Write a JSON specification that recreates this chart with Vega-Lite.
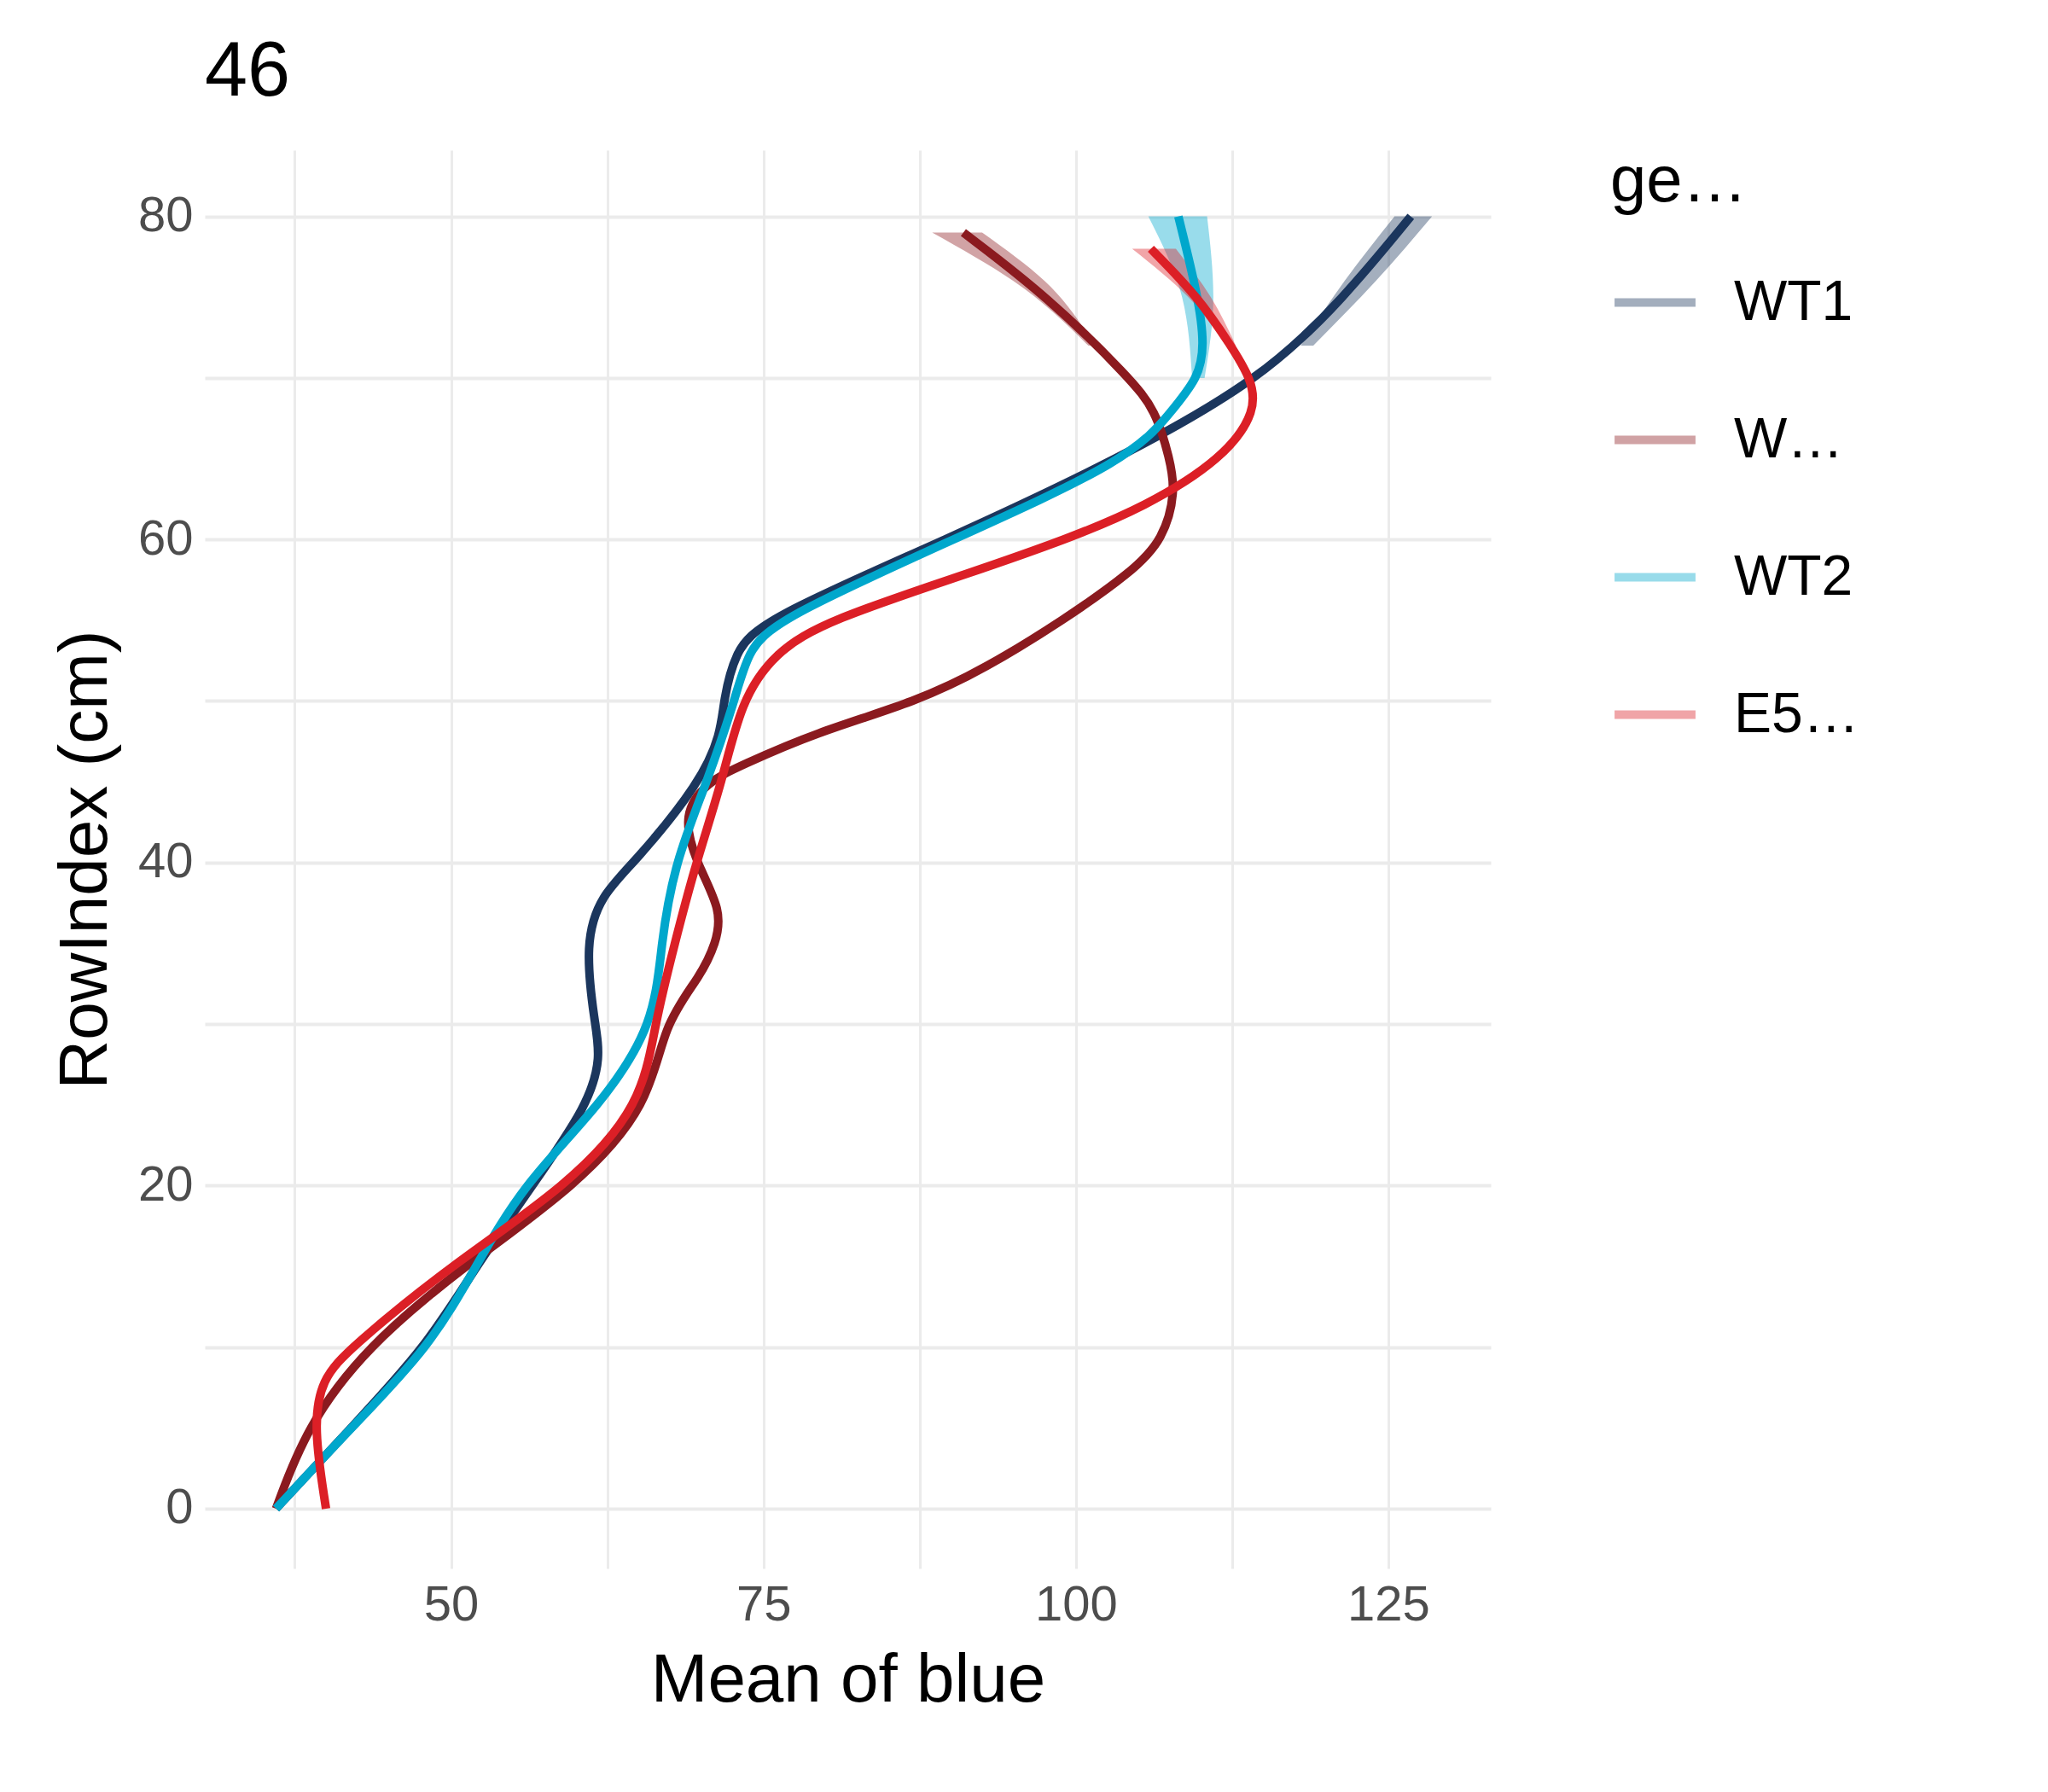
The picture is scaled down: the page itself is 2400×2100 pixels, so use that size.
{
  "$schema": "https://vega.github.io/schema/vega-lite/v6.json",
  "width": 1507,
  "height": 1662,
  "padding": {"left": 60, "top": 40, "right": 20, "bottom": 20},
  "background": "white",
  "title": {"text": "46", "anchor": "start", "frame": "group", "fontSize": 90, "font": "Liberation Sans", "fontWeight": "normal", "color": "black", "offset": 45},
  "config": {
    "font": "Liberation Sans",
    "view": {"stroke": null},
    "axis": {"domain": false, "ticks": false, "gridColor": "#ebebeb", "gridWidth": 4, "labelFontSize": 58, "labelColor": "#4d4d4d", "titleFontSize": 80, "titleFontWeight": "normal", "titleColor": "black", "labelPadding": 14, "titlePadding": 20}
  },
  "data": {"values": [
    {"g":"WT1","y":0,"x":36},{"g":"WT1","y":5,"x":42},{"g":"WT1","y":10,"x":48},{"g":"WT1","y":15,"x":52},{"g":"WT1","y":20,"x":56.5},{"g":"WT1","y":25,"x":61},{"g":"WT1","y":28,"x":62},{"g":"WT1","y":30,"x":61.5},{"g":"WT1","y":35,"x":60.7},{"g":"WT1","y":38,"x":62},{"g":"WT1","y":40,"x":64.7},{"g":"WT1","y":45,"x":70},{"g":"WT1","y":48,"x":71.6},{"g":"WT1","y":50,"x":71.8},{"g":"WT1","y":53,"x":72.7},{"g":"WT1","y":55,"x":74.8},{"g":"WT1","y":60,"x":89.7},{"g":"WT1","y":65,"x":103.5},{"g":"WT1","y":70,"x":115},{"g":"WT1","y":75,"x":121.5},{"g":"WT1","y":80,"x":126.8},
    {"g":"W78*","y":0,"x":36},{"g":"W78*","y":5,"x":38.4},{"g":"W78*","y":10,"x":43.2},{"g":"W78*","y":15,"x":51},{"g":"W78*","y":20,"x":60.1},{"g":"W78*","y":25,"x":65.9},{"g":"W78*","y":30,"x":67},{"g":"W78*","y":33,"x":70},{"g":"W78*","y":35,"x":71.2},{"g":"W78*","y":37,"x":71.7},{"g":"W78*","y":40,"x":69.6},{"g":"W78*","y":43,"x":68.5},{"g":"W78*","y":45,"x":70.5},{"g":"W78*","y":46,"x":73.2},{"g":"W78*","y":48,"x":79},{"g":"W78*","y":50,"x":87.4},{"g":"W78*","y":52,"x":92.7},{"g":"W78*","y":55,"x":99},{"g":"W78*","y":58,"x":104.5},{"g":"W78*","y":60,"x":107},{"g":"W78*","y":63,"x":108},{"g":"W78*","y":65,"x":107.5},{"g":"W78*","y":68,"x":106.4},{"g":"W78*","y":70,"x":104.3},{"g":"W78*","y":75,"x":97.8},{"g":"W78*","y":79,"x":91},
    {"g":"WT2","y":0,"x":36},{"g":"WT2","y":5,"x":42},{"g":"WT2","y":10,"x":48.3},{"g":"WT2","y":15,"x":52},{"g":"WT2","y":20,"x":55.7},{"g":"WT2","y":25,"x":62},{"g":"WT2","y":30,"x":66.3},{"g":"WT2","y":35,"x":66.8},{"g":"WT2","y":40,"x":67.9},{"g":"WT2","y":45,"x":70.5},{"g":"WT2","y":50,"x":72.7},{"g":"WT2","y":53,"x":73.7},{"g":"WT2","y":55,"x":75.9},{"g":"WT2","y":60,"x":90.2},{"g":"WT2","y":65,"x":104.5},{"g":"WT2","y":68,"x":107.7},{"g":"WT2","y":70,"x":109.8},{"g":"WT2","y":72,"x":110.3},{"g":"WT2","y":75,"x":109.8},{"g":"WT2","y":80,"x":108.2},
    {"g":"E568K","y":0,"x":40},{"g":"E568K","y":5,"x":39},{"g":"E568K","y":8,"x":39.6},{"g":"E568K","y":10,"x":42},{"g":"E568K","y":15,"x":49.9},{"g":"E568K","y":20,"x":59.4},{"g":"E568K","y":25,"x":65.3},{"g":"E568K","y":30,"x":66.3},{"g":"E568K","y":35,"x":67.9},{"g":"E568K","y":40,"x":69.6},{"g":"E568K","y":45,"x":71.7},{"g":"E568K","y":50,"x":73.2},{"g":"E568K","y":53,"x":75.9},{"g":"E568K","y":55,"x":80.1},{"g":"E568K","y":58,"x":91.8},{"g":"E568K","y":60,"x":99.2},{"g":"E568K","y":62,"x":105.5},{"g":"E568K","y":65,"x":111.8},{"g":"E568K","y":68,"x":114.5},{"g":"E568K","y":70,"x":114},{"g":"E568K","y":72,"x":112.4},{"g":"E568K","y":75,"x":109.8},{"g":"E568K","y":78,"x":106}
  ]},
  "datasets": {
    "bands": [
      {"g":"WT1","y":72,"lo":118,"hi":119},{"g":"WT1","y":76,"lo":121.5,"hi":124},{"g":"WT1","y":80,"lo":125.5,"hi":128.5},
      {"g":"W78*","y":72,"lo":101,"hi":101.5},{"g":"W78*","y":76,"lo":95,"hi":97.5},{"g":"W78*","y":79,"lo":88.5,"hi":92.5},
      {"g":"WT2","y":70,"lo":109.3,"hi":110.3},{"g":"WT2","y":75,"lo":108.5,"hi":111},{"g":"WT2","y":80,"lo":105.8,"hi":110.5},
      {"g":"E568K","y":72,"lo":112,"hi":112.8},{"g":"E568K","y":75,"lo":109,"hi":110.8},{"g":"E568K","y":78,"lo":104.5,"hi":108}
    ]
  },
  "layer": [
    {
      "data": {"name": "bands"},
      "mark": {"type": "area", "orient": "horizontal", "opacity": 0.4, "interpolate": "monotone"},
      "encoding": {
        "y": {"field": "y", "type": "quantitative"},
        "x": {"field": "lo", "type": "quantitative"},
        "x2": {"field": "hi"},
        "color": {"field": "g", "type": "nominal"},
        "detail": {"field": "g"}
      }
    },
    {
      "mark": {"type": "line", "strokeWidth": 10, "interpolate": "basis"},
      "encoding": {
        "x": {"field": "x", "type": "quantitative", "title": "Mean of blue", "scale": {"domain": [30.3, 133.2], "nice": false, "zero": false}, "axis": {"values": [25,37.5,50,62.5,75,87.5,100,112.5,125], "labelExpr": "datum.value % 25 == 0 ? datum.label : ''", "gridWidth": 3}},
        "y": {"field": "y", "type": "quantitative", "title": "RowIndex (cm)", "scale": {"domain": [-3.7, 84.1], "nice": false, "zero": false}, "axis": {"values": [0,10,20,30,40,50,60,70,80], "labelExpr": "datum.value % 20 == 0 ? datum.label : ''"}},
        "order": {"field": "y", "type": "quantitative"},
        "color": {"field": "g", "type": "nominal", "title": "genotype", "scale": {"domain": ["WT1","W78*","WT2","E568K"], "range": ["#1b365d","#8b1a1f","#00a7cc","#dc1f26"]},
          "legend": {"symbolType": "stroke", "symbolStrokeWidth": 10, "symbolSize": 9000, "titleFontSize": 76, "titleFontWeight": "normal", "titleColor": "black", "labelFontSize": 66, "labelColor": "black", "rowPadding": 75, "titlePadding": 50, "labelOffset": 40, "offset": 140, "padding": 0}}
      }
    }
  ]
}
